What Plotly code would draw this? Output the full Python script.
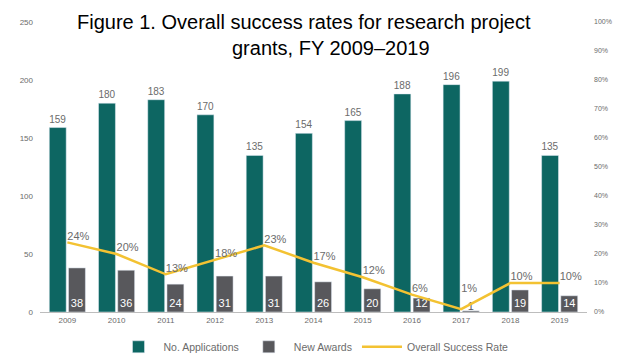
import plotly.graph_objects as go

years = ["2009", "2010", "2011", "2012", "2013", "2014", "2015", "2016", "2017", "2018", "2019"]
applications = [159, 180, 183, 170, 135, 154, 165, 188, 196, 199, 135]
awards = [38, 36, 24, 31, 31, 26, 20, 12, 1, 19, 14]
success_rate = [0.24, 0.20, 0.13, 0.18, 0.23, 0.17, 0.12, 0.06, 0.01, 0.10, 0.10]
rate_labels = ["24%", "20%", "13%", "18%", "23%", "17%", "12%", "6%", "1%", "10%", "10%"]
title_lines = ["Figure 1. Overall success rates for research project", "grants, FY 2009–2019"]

TEAL = "#0d6662"
GRAY = "#58585c"
YELLOW = "#f3c232"
TXT = "#6b6b6b"

award_text_colors = ["white" if v >= 5 else GRAY for v in awards]
rate_text = [lab + ("<br> " if r < 0.03 else "") for lab, r in zip(rate_labels, success_rate)]

fig = go.Figure()
fig.add_trace(go.Bar(
    x=years, y=applications, name="No. Applications", marker_color=TEAL,
    text=[str(v) for v in applications], textposition="outside",
    textfont=dict(size=8, color=TXT), cliponaxis=False,
))
fig.add_trace(go.Bar(
    x=years, y=awards, name="New Awards", marker_color=GRAY,
    text=[str(v) for v in awards], textposition="inside", insidetextanchor="start",
    textangle=0, textfont=dict(size=11, color=award_text_colors), constraintext="none",
))
fig.add_trace(go.Scatter(
    x=years, y=success_rate, name="Overall Success Rate", yaxis="y2",
    mode="lines+text", line=dict(color=YELLOW, width=2.5),
    text=rate_text, textposition="top right",
    textfont=dict(size=11, color=TXT), cliponaxis=False,
))

# title lines (centres, in pixels)
title_pos = [(304, 22), (331, 48)]
for line, (px, py) in zip(title_lines, title_pos):
    fig.add_annotation(
        text=line, xref="paper", yref="paper",
        x=(px - 40) / 547, xanchor="center", y=(312 - py) / 290, yanchor="middle",
        showarrow=False,
        font=dict(size=20, color="black", family="Liberation Sans, Arial, sans-serif"),
    )

fig.update_layout(
    width=625, height=356,
    margin=dict(l=40, r=38, t=22, b=44, autoexpand=False),
    paper_bgcolor="white", plot_bgcolor="white",
    font=dict(family="Liberation Sans, Arial, sans-serif", color=TXT),
    barmode="group", bargap=0.22, bargroupgap=0.12,
    uniformtext=dict(minsize=10, mode="show"),
    xaxis=dict(
        showline=True, linecolor="#bdbdbd", linewidth=1, showgrid=False,
        tickfont=dict(size=8, color=TXT), ticks="",
    ),
    yaxis=dict(
        range=[0, 250], dtick=50, showgrid=False, zeroline=False,
        tickfont=dict(size=8, color=TXT), ticklabelstandoff=6,
    ),
    yaxis2=dict(
        range=[0, 1], dtick=0.1, tickformat=".0%", overlaying="y", side="right",
        showgrid=False, zeroline=False, tickfont=dict(size=7, color=TXT),
        ticklabelstandoff=6,
    ),
    legend=dict(
        orientation="h", x=0.5, xanchor="center", y=-0.12, yanchor="middle",
        font=dict(size=10.5, color=TXT), itemwidth=40, traceorder="normal",
    ),
)

fig.write_html("out.html", config={"displayModeBar": False},
               post_script="document.body.style.margin='0';")
